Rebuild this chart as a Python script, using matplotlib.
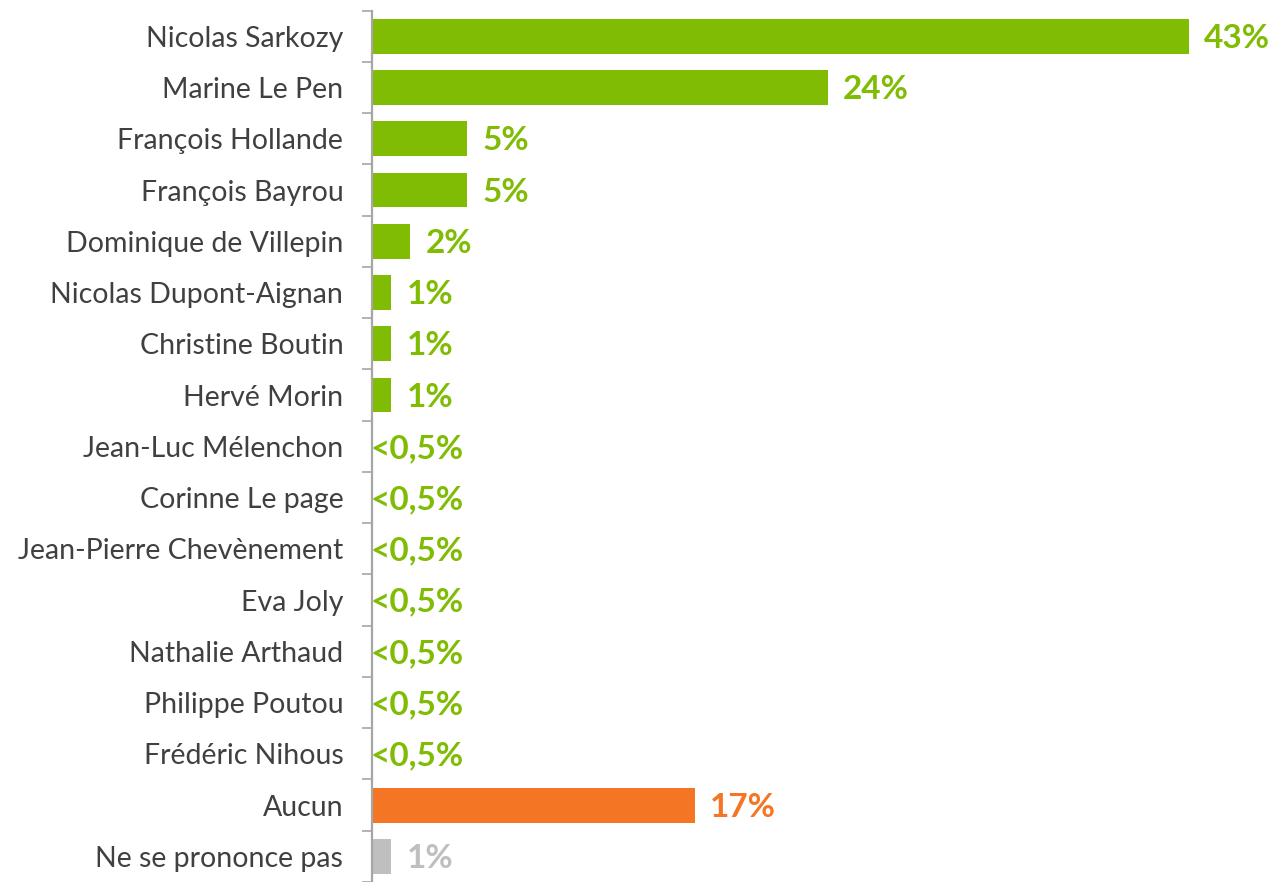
import numpy as np
import matplotlib.pyplot as plt

candidates = ['Nicolas Sarkozy', 'Marine Le Pen', 'François Hollande', 'François Bayrou',
              'Dominique de Villepin', 'Nicolas Dupont-Aignan', 'Christine Boutin',
              'Hervé Morin', 'Jean-Luc Mélenchon', 'Corinne Le page',
              'Jean-Pierre Chevènement', 'Eva Joly', 'Nathalie Arthaud',
              'Philippe Poutou', 'Frédéric Nihous', 'Aucun', 'Ne se prononce pas']
values = [43, 24, 5, 5, 2, 1, 1, 1, 0, 0, 0, 0, 0, 0, 0, 17, 1]
value_labels = ['43%', '24%', '5%', '5%', '2%', '1%', '1%', '1%', '<0,5%', '<0,5%',
                '<0,5%', '<0,5%', '<0,5%', '<0,5%', '<0,5%', '17%', '1%']

green = '#7FBC03'
orange = '#F47624'
grey = '#BFBFBF'
colors = [green] * 15 + [orange, grey]

plt.rcParams['font.family'] = ['Lato', 'DejaVu Sans']

fig = plt.figure(figsize=(12.72, 8.82), dpi=100)
ax = fig.add_axes([372.5 / 1272, 0, 1 - 372.5 / 1272, 1 - 10.6 / 882])

y = np.arange(len(candidates))
ax.barh(y, values, height=0.68, color=colors)

for i, (v, lab) in enumerate(zip(values, value_labels)):
    x = v + 0.8 if v > 0 else -0.08
    ax.text(x, i + 0.04, lab, va='center', ha='left', fontsize=24, fontweight='bold',
            color=colors[i])

ax.set_xlim(0, (1272 - 372.5) / 18.98)
ax.set_ylim((882 - 10.6) / 51.75 - 0.5, -0.5)

ax.set_yticks(y)
ax.set_yticklabels(candidates, fontsize=20.5, color='#404040')
ax.set_yticks(np.arange(-0.5, len(candidates), 1), minor=True)
ax.tick_params(axis='y', which='major', length=0, pad=21)
ax.tick_params(axis='y', which='minor', length=7, width=1.2, color='#A6A6A6', direction='out')
ax.set_xticks([])

for s in ['top', 'right', 'bottom']:
    ax.spines[s].set_visible(False)
ax.spines['left'].set_color('#A6A6A6')
ax.spines['left'].set_linewidth(1.6)

fig.savefig('out.png', dpi=100)
